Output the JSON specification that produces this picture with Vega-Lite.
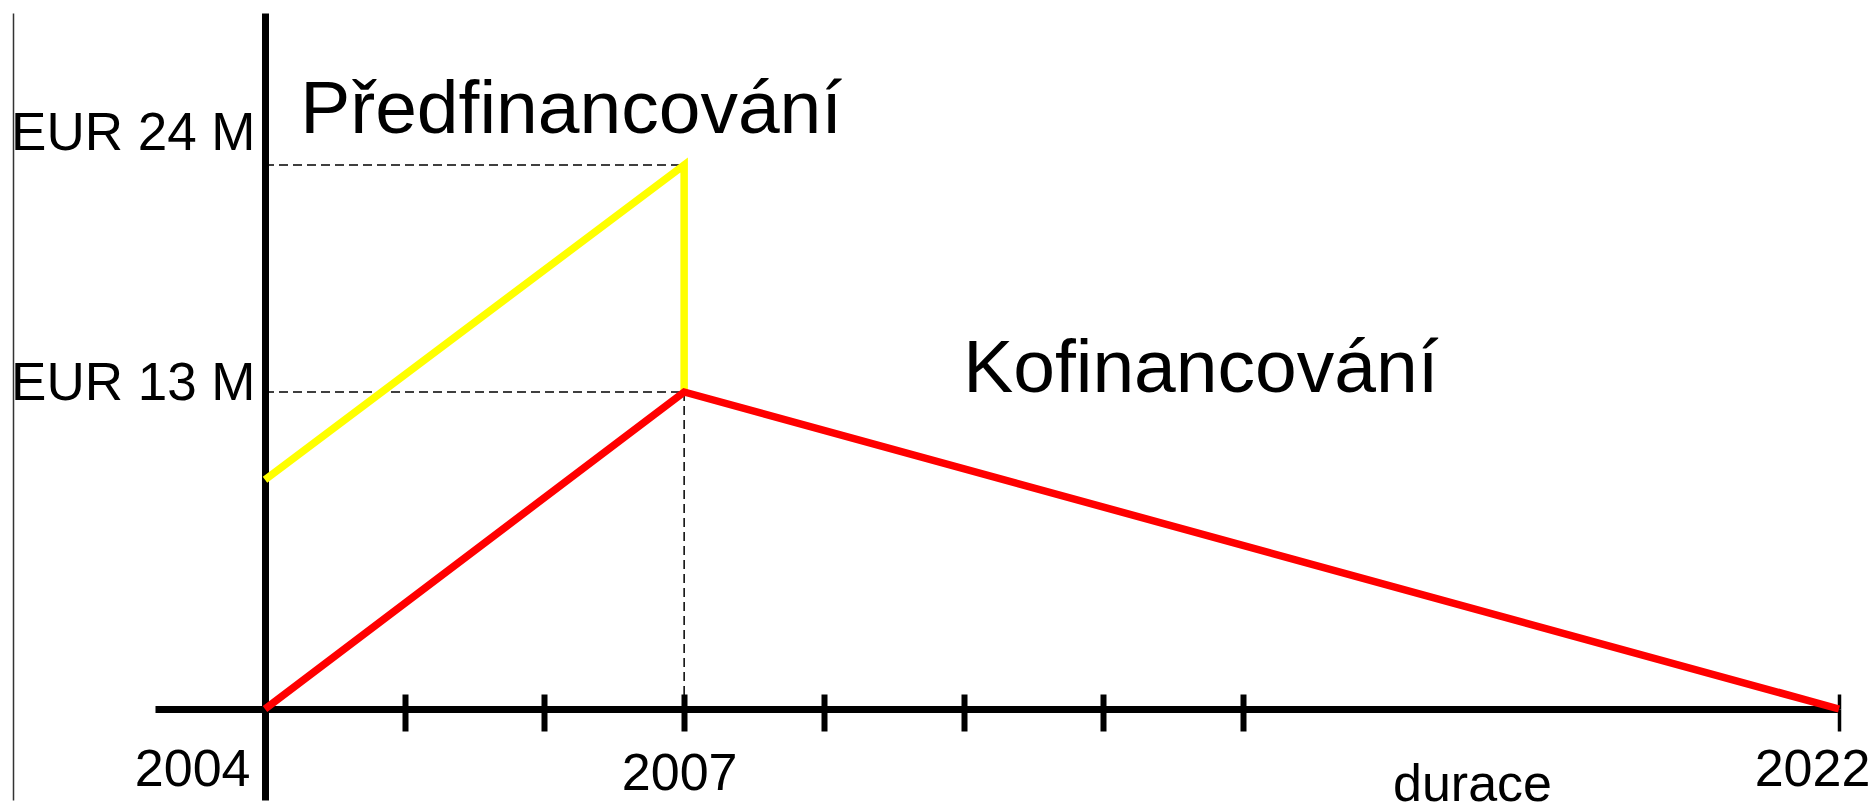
{
  "$schema": "https://vega.github.io/schema/vega-lite/v6.json",
  "width": 1574,
  "height": 696,
  "autosize": {"type": "none"},
  "padding": {"left": 265, "top": 13, "right": 34, "bottom": 96},
  "background": "white",
  "config": {"view": {"stroke": null}, "font": "Liberation Sans"},
  "datasets": {
    "lines": [
      {"series": "Předfinancování", "year": 2004, "value": 9.4, "ord": 1},
      {"series": "Předfinancování", "year": 2007, "value": 24, "ord": 2},
      {"series": "Předfinancování", "year": 2007, "value": 13, "ord": 3},
      {"series": "Kofinancování", "year": 2004, "value": 0, "ord": 1},
      {"series": "Kofinancování", "year": 2007, "value": 13, "ord": 2},
      {"series": "Kofinancování", "year": 2022, "value": 0, "ord": 3}
    ],
    "guides": [
      {"year": 2004, "year2": 2007, "value": 24, "value2": 24},
      {"year": 2004, "year2": 2007, "value": 13, "value2": 13},
      {"year": 2007, "year2": 2007, "value": 0, "value2": 13}
    ]
  },
  "resolve": {"axis": {"x": "independent", "y": "independent"}},
  "layer": [
    {
      "data": {"name": "guides"},
      "mark": {"type": "rule", "strokeDash": [9, 5], "strokeWidth": 1.5, "color": "black"},
      "encoding": {
        "x": {
          "field": "year", "type": "quantitative",
          "scale": {"type": "linear", "domain": [2003, 2004, 2011, 2022], "range": [-110, 0, 978, 1574], "nice": false, "zero": false},
          "axis": {
            "orient": "bottom",
            "values": [2005, 2006, 2007, 2008, 2009, 2010, 2011, 2022],
            "domain": false, "labels": false, "grid": false,
            "ticks": true, "tickSize": -15, "tickColor": "black",
            "tickWidth": {"condition": {"test": "datum.value == 2022", "value": 3.5}, "value": 6},
            "title": null
          }
        },
        "x2": {"field": "year2"},
        "y": {
          "field": "value", "type": "quantitative",
          "scale": {"type": "linear", "domain": [-4, 0, 13, 24, 30], "range": [787, 696, 379, 152, 0], "nice": false, "zero": false},
          "axis": {
            "orient": "left", "offset": 252,
            "domain": true, "domainColor": "#333333", "domainWidth": 1.5,
            "ticks": false, "labels": false, "grid": false, "title": null
          }
        },
        "y2": {"field": "value2"}
      }
    },
    {
      "data": {"name": "lines"},
      "mark": {"type": "line", "strokeWidth": 7.5, "strokeCap": "butt", "strokeJoin": "miter"},
      "encoding": {
        "x": {
          "field": "year", "type": "quantitative",
          "scale": {"type": "linear", "domain": [2003, 2004, 2011, 2022], "range": [-110, 0, 978, 1574], "nice": false, "zero": false},
          "axis": {
            "orient": "bottom",
            "values": [2004, 2005, 2006, 2007, 2008, 2009, 2010, 2011, 2022],
            "format": "d",
            "domain": true, "domainColor": "black", "domainWidth": 7,
            "ticks": true, "tickColor": "black", "tickSize": 22,
            "tickWidth": {"condition": {"test": "datum.value == 2022", "value": 3.5}, "value": 6},
            "grid": false,
            "labelExpr": "datum.value == 2004 || datum.value == 2007 || datum.value == 2022 ? datum.label : ''",
            "labelFont": "Liberation Sans", "labelFontSize": 52, "labelColor": "black",
            "labelBaseline": "alphabetic",
            "labelAlign": {"condition": {"test": "datum.value == 2004", "value": "right"}, "value": "center"},
            "labelOffset": {"condition": [{"test": "datum.value == 2004", "value": -15}, {"test": "datum.value == 2022", "value": -27}], "value": -5},
            "labelPadding": {"condition": {"test": "datum.value == 2007", "value": 58}, "value": 54},
            "labelOverlap": false, "labelFlush": false, "labelBound": false, "labelLimit": 0,
            "title": "durace",
            "titleFont": "Liberation Sans", "titleFontSize": 52, "titleFontWeight": "normal", "titleColor": "black",
            "titleX": 1207, "titleY": 91, "titleBaseline": "alphabetic", "titleAlign": "center", "titleLimit": 0
          }
        },
        "y": {
          "field": "value", "type": "quantitative",
          "scale": {"type": "linear", "domain": [-4, 0, 13, 24, 30], "range": [787, 696, 379, 152, 0], "nice": false, "zero": false},
          "axis": {
            "orient": "left",
            "values": [13, 24],
            "domain": true, "domainColor": "black", "domainWidth": 7,
            "ticks": false, "grid": false,
            "labelExpr": "'EUR ' + datum.value + ' M'",
            "labelFont": "Liberation Sans", "labelFontSize": 53, "labelColor": "black",
            "labelBaseline": "alphabetic", "labelAlign": "right",
            "labelOffset": {"condition": {"test": "datum.value == 24", "value": -16}, "value": 7},
            "labelPadding": 10, "labelLimit": 0,
            "labelOverlap": false, "labelFlush": false, "labelBound": false,
            "title": null
          }
        },
        "color": {
          "field": "series", "type": "nominal",
          "scale": {"domain": ["Předfinancování", "Kofinancování"], "range": ["#FFFF00", "#FF0000"]},
          "legend": null
        },
        "order": {"field": "ord", "type": "quantitative"}
      }
    },
    {
      "data": {"values": [{"label": "Předfinancování", "year": 2007, "value": 24}]},
      "mark": {"type": "text", "align": "left", "baseline": "alphabetic", "dx": -384, "dy": -32, "fontSize": 75, "font": "Liberation Sans", "color": "black"},
      "encoding": {
        "x": {"field": "year", "type": "quantitative", "axis": null},
        "y": {"field": "value", "type": "quantitative", "axis": null},
        "text": {"field": "label"}
      }
    },
    {
      "data": {"values": [{"label": "Kofinancování", "year": 2007, "value": 13}]},
      "mark": {"type": "text", "align": "left", "baseline": "alphabetic", "dx": 279, "dy": 0, "fontSize": 75, "font": "Liberation Sans", "color": "black"},
      "encoding": {
        "x": {"field": "year", "type": "quantitative", "axis": null},
        "y": {"field": "value", "type": "quantitative", "axis": null},
        "text": {"field": "label"}
      }
    }
  ]
}
